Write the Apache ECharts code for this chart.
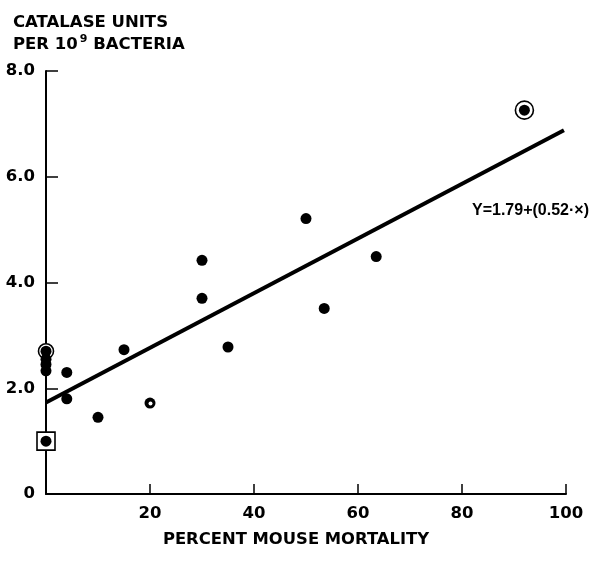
<!DOCTYPE html>
<html><head><meta charset="utf-8">
<script src="https://cdn.jsdelivr.net/npm/echarts@6/dist/echarts.min.js"></script>
<style>html,body{margin:0;padding:0;background:#fff}#c{width:592px;height:565px}</style>
</head><body><div id="c"></div>
<script>
// Data
const dotsX = [0, 0, 0, 0, 4, 4, 0, 10, 15, 30, 30, 35, 50, 53.5, 63.5, 92];
const dotsY = [2.70, 2.55, 2.45, 2.33, 2.30, 1.80, 1.00, 1.45, 2.73, 4.42, 3.70, 2.78, 5.21, 3.51, 4.49, 7.26];
const halfX = [20];
const halfY = [1.72];
const ringSmallX = [0], ringSmallY = [2.70];
const ringLargeX = [92], ringLargeY = [7.26];
const squareX = [0], squareY = [1.00];
const fitX = [0, 99.6];
const fitY = [1.73, 6.88];
const xTicks = [0, 20, 40, 60, 80, 100];
const yTicks = [0, 2, 4, 6, 8];
const equation = 'Y=1.79+(0.52·×)';

const zip = (a, b) => a.map((v, i) => [v, b[i]]);
const FONT = 'DejaVu Sans';
const chart = echarts.init(document.getElementById('c'), null, {renderer: 'canvas'});
chart.setOption({
  backgroundColor: '#fff',
  animation: false,
  title: {
    left: 8, top: 7,
    text: '{a|CATALASE UNITS}\n{a|PER 10}{s|9}{a| BACTERIA}',
    textStyle: {
      rich: {
        a: {fontFamily: FONT, fontWeight: 'bold', fontSize: 16.5, color: '#000', lineHeight: 22},
        s: {fontFamily: FONT, fontWeight: 'bold', fontSize: 11, color: '#000', verticalAlign: 'top', lineHeight: 22, padding: [0, 0, 8, 2]}
      }
    }
  },
  graphic: [{
    type: 'text', left: 472, top: 203,
    style: {text: equation, fontFamily: 'Liberation Sans', fontWeight: 'bold', fontSize: 16, fill: '#000'}
  }, {
    type: 'text', left: 'center', top: 532,
    style: {text: 'PERCENT MOUSE MORTALITY', fontFamily: FONT, fontWeight: 'bold', fontSize: 16.4, fill: '#000'}
  }],
  grid: {left: 46, right: 26, top: 71, bottom: 71, containLabel: false},
  xAxis: {
    type: 'value', min: xTicks[0], max: xTicks[xTicks.length - 1], interval: 20,
    axisLine: {show: true, lineStyle: {color: '#000', width: 2}},
    axisTick: {show: true, inside: true, length: 10, lineStyle: {color: '#000', width: 1.5}},
    splitLine: {show: false},
    axisLabel: {margin: 11, color: '#000', fontFamily: FONT, fontWeight: 'bold', fontSize: 16.5,
      formatter: v => v === 0 ? '' : String(v)}
  },
  yAxis: {
    type: 'value', min: yTicks[0], max: yTicks[yTicks.length - 1], interval: 2,
    axisLine: {show: true, lineStyle: {color: '#000', width: 2}},
    axisTick: {show: true, inside: true, length: 12, lineStyle: {color: '#000', width: 1.5}},
    splitLine: {show: false},
    axisLabel: {margin: 11, color: '#000', fontFamily: FONT, fontWeight: 'bold', fontSize: 16.5,
      formatter: v => v === 0 ? '0' : v.toFixed(1)}
  },
  series: [
    {type: 'line', data: zip(fitX, fitY), showSymbol: false, symbol: 'none',
      lineStyle: {color: '#000', width: 4}, z: 2, clip: false},
    {type: 'scatter', data: zip(ringSmallX, ringSmallY), symbol: 'circle', symbolSize: 15,
      itemStyle: {color: '#fff', borderColor: '#000', borderWidth: 1.6, opacity: 1}, z: 3, clip: false},
    {type: 'scatter', data: zip(ringLargeX, ringLargeY), symbol: 'circle', symbolSize: 18,
      itemStyle: {color: '#fff', borderColor: '#000', borderWidth: 1.6, opacity: 1}, z: 3, clip: false},
    {type: 'scatter', data: zip(squareX, squareY), symbol: 'rect', symbolSize: 18,
      itemStyle: {color: '#fff', borderColor: '#000', borderWidth: 1.6, opacity: 1}, z: 3, clip: false},
    {type: 'scatter', data: zip(dotsX, dotsY), symbol: 'circle', symbolSize: 11,
      itemStyle: {color: '#000', opacity: 1}, z: 4, clip: false},
    {type: 'scatter', data: zip(halfX, halfY), symbol: 'circle', symbolSize: 11,
      itemStyle: {color: '#000', opacity: 1}, z: 4, clip: false},
    {type: 'scatter', data: zip(halfX, halfY), symbol: 'circle', symbolSize: 4, symbolOffset: [0.5, 0.5],
      itemStyle: {color: '#fff', opacity: 1}, z: 5, clip: false}
  ]
});
</script></body></html>
